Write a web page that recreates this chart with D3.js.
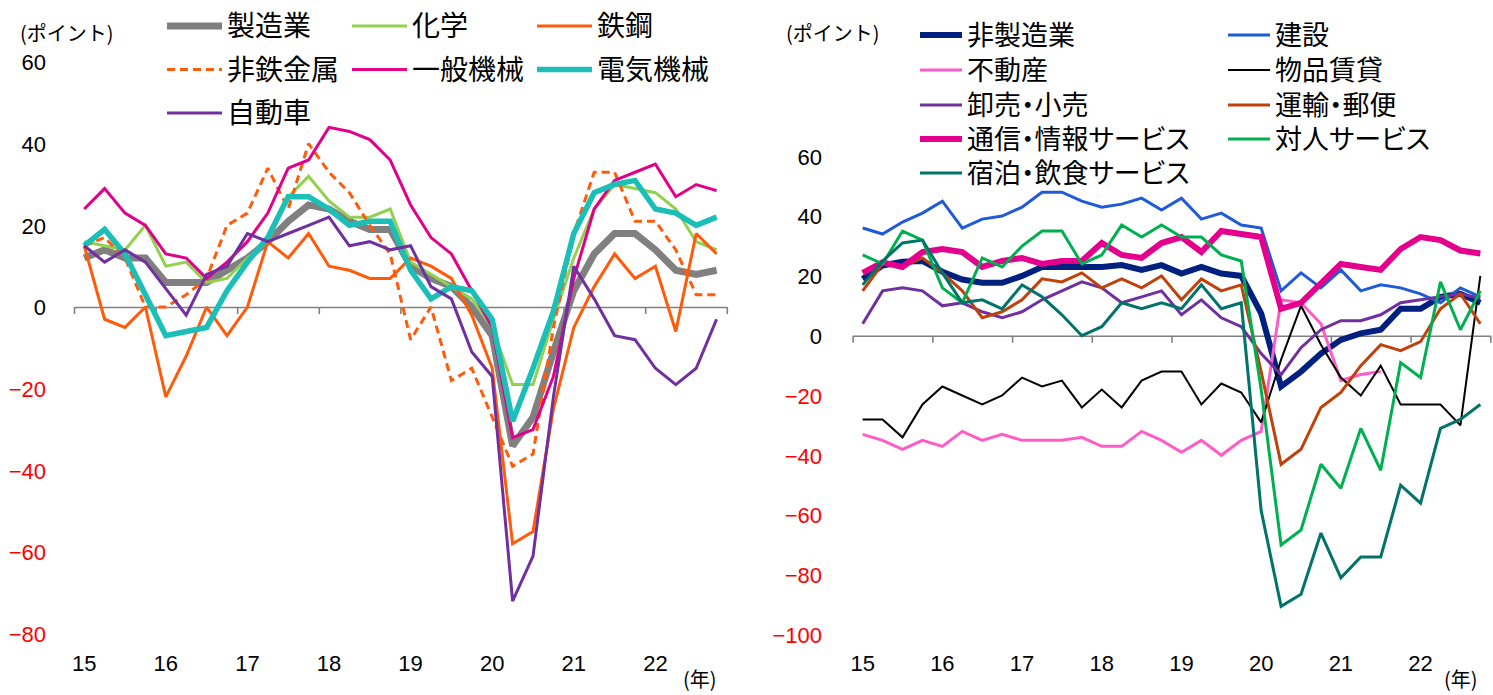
<!DOCTYPE html>
<html><head><meta charset="utf-8">
<script src="https://cdn.jsdelivr.net/npm/d3@7"></script>
<style>
body{margin:0;background:#fff;}
svg text{font-family:"Noto Sans CJK JP","Noto Sans",sans-serif;}
.num text, text.num{font-family:"Liberation Sans",Arial,sans-serif;}
.leg{font-feature-settings:"palt";}
</style></head><body>
<svg id="c" width="1493" height="695"></svg>
<script>
// ---------- categories & ticks ----------
const quarters = ["15Q1","15Q2","15Q3","15Q4","16Q1","16Q2","16Q3","16Q4",
  "17Q1","17Q2","17Q3","17Q4","18Q1","18Q2","18Q3","18Q4",
  "19Q1","19Q2","19Q3","19Q4","20Q1","20Q2","20Q3","20Q4",
  "21Q1","21Q2","21Q3","21Q4","22Q1","22Q2","22Q3","22Q4"];
const yearStarts = ["15Q1","16Q1","17Q1","18Q1","19Q1","20Q1","21Q1","22Q1"];
const leftYTicks = [-80,-60,-40,-20,0,20,40,60];
const rightYTicks = [-100,-80,-60,-40,-20,0,20,40,60];

// ---------- left panel: manufacturing ----------
const seizo   = [12,14,12,12,6,6,6,9,12,16,21,25,24,21,19,19,10,7,5,0,-7,-34,-27,-11,4,13,18,18,14,9,8,9];
const kagaku  = [16,15,14,20,10,11,6,7,12,16,27,32,26,22,22,24,11,8,5,2,-5,-19,-19,-3,12,24,30,29,28,24,16,14];
const tekko   = [15,-3,-5,0,-22,-12,0,-7,0,16,12,18,10,9,7,7,12,10,7,-2,-15,-58,-55,-25,-5,5,13,7,10,-6,18,13];
const hitetsu = [15,17,12,0,0,3,7,20,23,34,24,40,33,28,20,13,-8,0,-18,-15,-27,-39,-36,-5,18,33,33,21,21,14,3,3];
const ippan   = [24,29,23,20,13,12,7,11,16,23,34,36,44,43,41,36,25,17,13,4,-5,-32,-30,-17,7,24,31,33,35,27,30,28.5];
const denki   = [15,19,13,3,-7,-6,-5,4,11,17,27,27,24,20,21,21,9,2,5,4,-3,-28,-15,-1,18,28,30,31,24,23,20,22];
const jidosha = [15,11,14,11,4.5,-2,8,10,18,16,18,20,22,15,16,14,15,5,2,-11,-17,-72,-61,-22,10,2,-7,-8,-15,-19,-15,-3];

// ---------- right panel: non-manufacturing ----------
const hiseizo  = [19,23.5,24.7,25,21.4,18.8,17.7,17.7,20,23,23,23,23,23.6,22,23.6,20.8,23,20.8,20,7.5,-17,-12,-6,-1.4,0.8,2,9,9,13,14,11];
const kensetsu = [36,34,38,41,45,36,39,40,43,48,48,45,43,44,46,42,46,39,41,37,36,15,21,16,22,15,17,16,14,11,16,13];
const fudosan  = [-33,-35,-38,-35,-37,-32,-35,-33,-35,-35,-35,-34,-37,-37,-32,-35,-39,-35,-40,-35,-32,12,11,4,-15,-13,-12,null,null,null,null,null];
const buppin   = [-28,-28,-34,-23,-17,-20,-23,-20,-14,-17,-15,-24,-18,-24,-15,-12,-12,-23,-16,-19,-29,-8,10,-3,-14,-20,-10,-23,-23,-23,-30,20];
const oroshi   = [4,15,16,15,10,11,8,6,8,12,15,18,16,11,13,15,7,12,6,3,-6,-13,-4,2,5,5,7,11,12,13,14,12.5];
const unyu     = [15,24,23,26,21,15,6,8,12,19,18,21,16,19,16,20,12,19,15,17,-12,-43,-38,-24,-19,-10,-3,-5,-2,9,14,4];
const tsushin  = [21,24.5,23,28,29,28,23,25,26,24,25,25,31,27,26,31,33,28,35,34,33,9,11,17.5,24,23,22,29,33,32,28.5,27.5];
const taijin   = [27,24,35,32,16,11,26,23,30,35,35,24,27,37,33,37,33,33,27,25,-18,-70,-65,-43,-51,-31,-45,-9,-14,18,2,15];
const shukuhaku= [17,25,31,32,21,11,12,9,17,13,7,0,3,11,9,11,9,17,9,11,-58.5,-90.5,-86.5,-66,-81,-74,-74,-50,-56,-31,-28,-23];

// ---------- series definitions (styles kept separate from values) ----------
const leftSeries = [
  {name:"製造業", values:seizo, color:"#808080", w:7},
  {name:"化学", values:kagaku, color:"#92D050", w:3},
  {name:"鉄鋼", values:tekko, color:"#FF5B0A", w:3},
  {name:"非鉄金属", values:hitetsu, color:"#FF5B0A", w:3, dash:"8,5"},
  {name:"一般機械", values:ippan, color:"#E2008A", w:3},
  {name:"電気機械", values:denki, color:"#1CBFB7", w:5.5},
  {name:"自動車", values:jidosha, color:"#7030A0", w:3}
];
const rightSeries = [
  {name:"非製造業", values:hiseizo, color:"#00207F", w:6},
  {name:"建設", values:kensetsu, color:"#1F5BD6", w:3},
  {name:"不動産", values:fudosan, color:"#FF5CC6", w:3},
  {name:"物品賃貸", values:buppin, color:"#000000", w:2},
  {name:"卸売・小売", values:oroshi, color:"#7030A0", w:3},
  {name:"運輸・郵便", values:unyu, color:"#C0410A", w:3},
  {name:"通信・情報サービス", values:tsushin, color:"#E4008C", w:6},
  {name:"対人サービス", values:taijin, color:"#00B050", w:3},
  {name:"宿泊・飲食サービス", values:shukuhaku, color:"#00736A", w:3}
];

const svg = d3.select("#c");

function panel(cfg){
  const g = svg.append("g");
  const x = d3.scaleBand().domain(quarters).range(cfg.xr).paddingInner(0).paddingOuter(0);
  const xi = d3.scaleLinear().domain([0, quarters.length]).range(cfg.xr);
  const y = d3.scaleLinear().domain(cfg.yd).range(cfg.yr);

  // y tick labels
  const ya = g.append("g").attr("class","num").attr("transform",`translate(${cfg.yLabelX},0)`)
    .call(d3.axisLeft(y).tickValues(cfg.yTicks).tickSize(0).tickPadding(0).tickFormat(d3.format("d")));
  ya.select(".domain").remove();
  ya.selectAll("text").attr("font-size",22).attr("dy","0.35em")
    .attr("fill", d => d < 0 ? "#FF0000" : "#000");

  // zero line with year-boundary ticks
  const za = g.append("g").attr("transform",`translate(0,${y(0)})`)
    .call(d3.axisBottom(xi).tickValues(d3.range(0, quarters.length+1, 4)).tickSizeInner(7).tickSizeOuter(0).tickFormat(""));
  za.select(".domain").attr("stroke","#808080").attr("stroke-width",1.6);
  za.selectAll(".tick line").attr("stroke","#808080").attr("stroke-width",1.6);

  // year labels
  const xa = g.append("g").attr("class","num").attr("transform",`translate(0,${cfg.xLabelY})`)
    .call(d3.axisBottom(x).tickValues(yearStarts).tickSize(0).tickPadding(0).tickFormat(d => d.slice(0,2)));
  xa.select(".domain").remove();
  xa.selectAll("text").attr("font-size",22).attr("fill","#000");

  // lines
  const line = d3.line().defined(d => d.v !== null)
    .x(d => x(d.q) + x.bandwidth()/2).y(d => y(d.v));
  g.selectAll("path.series").data(cfg.series).join("path")
    .attr("class","series")
    .attr("d", s => line(s.values.map((v,i) => ({q:quarters[i], v}))))
    .attr("fill","none").attr("stroke", s => s.color).attr("stroke-width", s => s.w)
    .attr("stroke-dasharray", s => s.dash || null)
    .attr("stroke-linejoin","miter").attr("stroke-miterlimit",2);

  // unit labels
  g.append("text").attr("x",cfg.unitX).attr("y",cfg.unitY).attr("dy","0.35em")
    .attr("font-size",20).text("(ポイント)");
  g.append("text").attr("x",cfg.nenX).attr("y",cfg.nenY).attr("dy","0.35em")
    .attr("font-size",20).text("(年)");

  // legend
  const lg = g.append("g").attr("class","leg");
  cfg.series.forEach((s,i) => {
    const col = i % cfg.legCols.length, row = Math.floor(i / cfg.legCols.length);
    const cx = cfg.legCols[col], cy = cfg.legRows[row];
    lg.append("line").attr("x1",cx).attr("x2",cx+cfg.legLen).attr("y1",cy).attr("y2",cy)
      .attr("stroke",s.color).attr("stroke-width",s.w)
      .attr("stroke-dasharray", s.dash || null);
    lg.append("text").attr("x",cx+cfg.legLen+5).attr("y",cy).attr("dy","0.36em")
      .attr("font-size",cfg.legFont).attr("fill","#000").text(s.name);
  });
}

panel({
  xr:[74,726.8], yd:[-80,60], yr:[633.7,62], yTicks:leftYTicks, yLabelX:46, xLabelY:655,
  series:leftSeries, unitX:20, unitY:34, nenX:683, nenY:680,
  legCols:[167,352,537], legRows:[26,69.5,113], legLen:55, legFont:28
});
panel({
  xr:[852.7,1490.3], yd:[-100,60], yr:[634.7,156.3], yTicks:rightYTicks, yLabelX:822, xLabelY:655,
  series:rightSeries, unitX:786, unitY:34, nenX:1444, nenY:680,
  legCols:[920,1228], legRows:[35,70,105,139,173], legLen:42, legFont:27
});
</script>
</body></html>
